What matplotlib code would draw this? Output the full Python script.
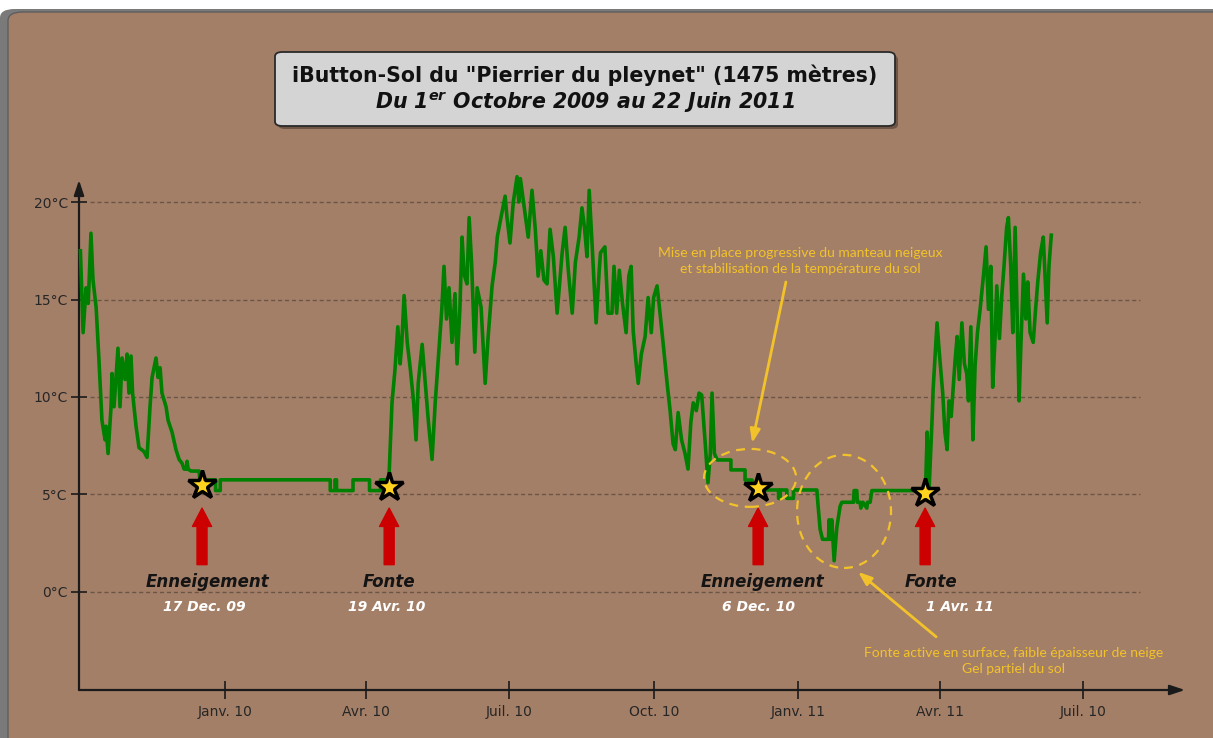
import matplotlib.pyplot as plt
import pandas as pd
from matplotlib.patches import Ellipse, FancyBboxPatch

plt.rcParams['font.family'] = ['DejaVu Sans']
plt.rcParams['mathtext.fontset'] = 'custom'
plt.rcParams['mathtext.rm'] = 'DejaVu Sans:bold:italic'
plt.rcParams['mathtext.it'] = 'DejaVu Sans:bold:italic'

# jours depuis le 1er octobre 2009, température du sol (°C)
debut = pd.Timestamp('2009-10-01')
jours = [0, 1.7, 3.6, 5, 6.7, 8, 10, 11.8, 13.7, 15.7, 16.3, 17.6, 19.5, 20.1, 21.4, 23.9, 25.2, 26.5,
         28.4, 29.7, 30.9, 32.2, 33.2, 35.4, 37.3, 40.5, 42.4, 44.3, 45.6, 48.1, 49.4, 50.7, 51.9,
         54.5, 55.8, 58.3, 60.8, 62.8, 64.7, 66, 67.5, 67.9, 68.5, 70.4, 75.5, 76,
         86, 86, 89, 89, 159, 159, 162, 162, 163, 163, 173.5, 173.5, 184, 184, 191, 191, 196,
         196.5, 198.3, 200.2, 202, 203.5, 204.5, 206, 208, 210, 212, 213.6, 215, 217.5, 219.5,
         221.5, 223.8, 225.8, 227.8, 230, 231.4, 233, 234.6, 236.5, 238.4, 239.7, 241.5, 242.9,
         244.2, 246, 247.4, 249, 251, 252.5, 255, 257.6, 259.5, 262, 264, 265.3, 267.4, 270.3,
         271.5, 273.4, 275.5, 277.9, 279, 280, 282, 285, 287.4, 289.5, 291.3, 293, 295, 297,
         298.9, 301, 303.4,
         306.6, 308.5, 310.5, 313, 315, 317.4, 319.2, 320.8, 322.4, 323.8, 325.8, 328.2, 330.2,
         331, 333.8, 335.8, 338.3, 339.6, 341.3, 343, 345, 347.3, 349, 350.5, 351.8, 353.7, 355,
         357, 359.4, 361.3, 363.3, 364.8, 367, 368.5, 370.8, 373.4, 375.3, 377.2, 378.6, 380.4,
         382.6, 384.8, 386.7, 388.5, 390, 392, 393.7, 395.4, 397.5, 399.4, 400.9, 402, 403.5,
         405.3, 414, 414, 423, 423, 427.5, 428, 431, 433, 444.3, 444.3, 445.4, 445.4, 449.6,
         449.6, 453.8, 453.8, 468.7, 469.5, 470.8, 472.3, 476.1, 476.5, 477.2, 478.2, 479.7,
         481.4, 483.5, 484.6, 492, 492.4, 494.1, 494.5, 496.2, 496.7, 498, 500.5, 500.9, 502.6,
         503.7, 534.4,
         537, 538, 538.9, 540.2, 542.1, 542.7, 545.2, 546.5, 548.8, 550.2, 551.6, 552.8, 554.2,
         556.7, 558, 559.3, 561, 562.6, 564.1, 565.2, 566.7, 568, 569.4, 570.9, 572.6, 574.7,
         576.4, 577.9, 579.4, 580.6, 582.1, 583.2, 584.9, 586.3, 587.8, 589.5, 590.6, 592.1,
         593.4, 594.9, 595.9, 597.4, 598.7, 600.2, 601.7, 602.9, 604.4, 606.4, 607.9, 609.4,
         611.1, 612.8, 614.3, 615.3, 616.4, 617.9]
temp = [17.5, 13.3, 15.6, 14.8, 18.4, 16.0, 14.6, 11.9, 8.8, 7.8, 8.5, 7.1, 9.5, 11.2, 9.5, 12.5, 9.5, 12.0,
        10.9, 12.2, 10.2, 12.1, 10.2, 8.5, 7.4, 7.2, 6.9, 9.5, 11.0, 12.0, 11.0, 11.5, 10.2,
        9.5, 8.8, 8.2, 7.3, 6.8, 6.6, 6.3, 6.3, 6.7, 6.3, 6.2, 6.2, 5.75,
        5.75, 5.2, 5.2, 5.75, 5.75, 5.2, 5.2, 5.75, 5.75, 5.2, 5.2, 5.75, 5.75, 5.2, 5.2, 5.75, 5.75,
        6.1, 9.7, 11.4, 13.6, 11.7, 12.7, 15.2, 12.8, 11.4, 9.8, 7.8, 10.7, 12.7, 10.7,
        8.7, 6.8, 9.7, 12.0, 14.5, 16.7, 14.0, 15.6, 12.8, 15.3, 11.7, 14.5, 18.2,
        16.3, 15.8, 19.2, 16.8, 12.3, 15.6, 14.6, 10.7, 13.1, 15.7, 16.9, 18.2, 19.1, 20.3,
        19.2, 17.9, 20.0, 21.3, 20.0, 21.2, 20.0, 18.2, 20.6, 18.6, 16.2, 17.5, 16.0, 15.8,
        18.6, 17.2, 14.3,
        17.4, 18.7, 16.5, 14.3, 16.9, 18.2, 19.7, 18.7, 17.2, 20.6, 17.6, 13.8, 16.5,
        17.4, 17.7, 14.3, 14.3, 16.7, 14.3, 16.5, 14.8, 13.3, 16.2, 16.7, 13.4, 11.7, 10.7,
        12.2, 13.1, 15.1, 13.3, 15.1, 15.7, 14.6, 12.8, 10.7, 9.3, 7.6, 7.3, 9.2,
        7.8, 7.1, 6.3, 8.7, 9.7, 9.3, 10.2, 10.1, 7.8, 5.6, 7.1, 10.2, 7.1,
        6.77, 6.77, 6.26, 6.26, 5.74, 5.74, 5.5, 5.3, 5.23, 5.23, 4.8, 4.8, 5.23, 5.23,
        4.8, 4.8, 5.23, 5.23, 4.4, 3.2, 2.7, 2.7, 3.7, 2.7, 3.7, 1.6,
        3.3, 4.4, 4.6, 4.6, 5.2, 5.2, 4.6, 4.6, 4.3, 4.6, 4.3, 4.6, 4.6,
        5.2, 5.2,
        5.2, 5.6, 8.2, 5.4, 9.0, 10.4, 13.8, 12.4, 10.2, 8.2, 7.3, 9.8, 9.0,
        11.9, 13.1, 10.9, 13.8, 11.7, 11.2, 9.8, 13.6, 7.8, 11.6, 13.3, 14.5, 16.2,
        17.7, 14.5, 16.7, 10.5, 13.0, 15.7, 13.0, 15.1, 16.7, 18.7, 19.2, 16.7,
        13.3, 18.7, 15.1, 9.8, 13.0, 16.3, 14.0, 15.9, 13.3, 12.8, 14.5, 16.0,
        17.4, 18.2, 15.6, 13.8, 16.7, 18.3]

mois_ticks = ['2010-01-01', '2010-04-01', '2010-07-01', '2010-10-01', '2011-01-01', '2011-04-01', '2011-07-01']
mois_labels = ['Janv. 10', 'Avr. 10', 'Juil. 10', 'Oct. 10', 'Janv. 11', 'Avr. 11', 'Juil. 10']
niveaux = [0, 5, 10, 15, 20]

# évènements (étoiles)
etoiles_jours = [77.4, 196.5, 431.3, 537.6]
etoiles_temp = [5.5, 5.4, 5.33, 5.1]
evenements = ['Enneigement', 'Fonte', 'Enneigement', 'Fonte']
dates_evenements = ['17 Dec. 09', '19 Avr. 10', '6 Dec. 10', '1 Avr. 11']

BRUN = '#A47F68'
OR = '#F2C22A'
W, H = 1213, 738

fig = plt.figure(figsize=(W / 100, H / 100), dpi=100)
fig.patch.set_facecolor('white')
fig.patches.append(FancyBboxPatch((0, -0.1), 1.2, 1.1 - 9 / H, boxstyle='round,pad=0,rounding_size=0.012',
                                  transform=fig.transFigure, fc='#7a7a7a', ec='none', zorder=-3))
fig.patches.append(FancyBboxPatch((8 / W, -0.1), 1.2, 1.1 - 12 / H, boxstyle='round,pad=0,rounding_size=0.012',
                                  transform=fig.transFigure, fc=BRUN, ec='#5e5e5e', lw=1, zorder=-2))

ax = fig.add_axes([79 / W, 1 - 690 / H, (1185 - 79) / W, (690 - 180) / H])
ax.set_facecolor('none')
ax.set_xlim(-0.9, 703)
ax.set_ylim(-5.03, 21.13)
for s in ax.spines.values():
    s.set_visible(False)

# axes avec flèches
fleche = dict(arrowstyle='-|>,head_length=0.9,head_width=0.3', color='#1a1a1a', lw=1.6, shrinkA=0, shrinkB=0)
ax.annotate('', xy=(1, 0), xytext=(0, 0), xycoords='axes fraction', arrowprops=fleche)
ax.annotate('', xy=(0, 1), xytext=(0, 0), xycoords='axes fraction', arrowprops=fleche)

tick_jours = [(pd.Timestamp(d) - debut).days for d in mois_ticks]
ax.set_xticks(tick_jours)
ax.set_xticklabels(mois_labels)
ax.set_yticks(niveaux)
ax.set_yticklabels([f'{v}°C' for v in niveaux])
ax.tick_params(axis='y', direction='inout', length=12, width=1.2, color='#1a1a1a',
               labelsize=10, labelcolor='#262626', pad=2)
ax.tick_params(axis='x', direction='inout', length=13, width=1.2, color='#1a1a1a',
               labelsize=10, labelcolor='#262626', pad=4)

# grille pointillée
ax.hlines(niveaux, 6, 674.5, colors='#6B5646', linestyles=(0, (3, 2)), lw=1, zorder=1)

# courbe de température
ax.plot(jours, temp, color='#008000', lw=2.6, zorder=3, clip_on=False)

# étoiles et flèches rouges
ax.plot(etoiles_jours, etoiles_temp, '*', ms=21, mfc='#FFD21F', mec='black', mew=2.5, zorder=6)
dx_mot = [4, 0, 3, 4]
dx_date = [2, -2, 0, 25]
for i, d in enumerate(etoiles_jours):
    ax.annotate('', xy=(d, 4.3), xytext=(d, 1.4),
                arrowprops=dict(arrowstyle='simple,head_length=1.1,head_width=1.15,tail_width=0.6',
                                fc='#CC0000', ec='#CC0000', mutation_scale=12, shrinkA=0, shrinkB=0))
    ax.annotate(evenements[i], xy=(d, 0.5), xytext=(dx_mot[i], 0), textcoords='offset points',
                ha='center', va='center', fontsize=12, fontweight='bold', fontstyle='italic', color='#141414')
    ax.annotate(dates_evenements[i], xy=(d, -0.77), xytext=(dx_date[i], 0), textcoords='offset points',
                ha='center', va='center', fontsize=10, fontweight='bold', fontstyle='italic', color='white')

# commentaires en jaune
ax.text(458, 17.0, 'Mise en place progressive du manteau neigeux\net stabilisation de la température du sol',
        ha='center', va='center', color=OR, fontsize=10, family='Lato', linespacing=1.4)
ax.annotate('', xy=(427.5, 7.64), xytext=(449, 15.9),
            arrowprops=dict(arrowstyle='-|>,head_length=0.8,head_width=0.3', color=OR, lw=2, shrinkA=0, shrinkB=0))
ax.add_patch(Ellipse((426.2, 5.85), 58.6, 2.97, fill=False, ec=OR, ls=(0, (4, 3)), lw=1.6, zorder=4))

ax.text(593.7, -3.54, 'Fonte active en surface, faible épaisseur de neige\nGel partiel du sol',
        ha='center', va='center', color=OR, fontsize=10, family='Lato', linespacing=1.4)
ax.annotate('', xy=(494.9, 1.03), xytext=(544.6, -2.3),
            arrowprops=dict(arrowstyle='-|>,head_length=0.8,head_width=0.3', color=OR, lw=2, shrinkA=0, shrinkB=0))
ax.add_patch(Ellipse((486, 4.13), 59.8, 5.8, fill=False, ec=OR, ls=(0, (4, 3)), lw=1.6, zorder=4))

# titre dans un cadre
fig.patches.append(FancyBboxPatch((278 / W, 1 - 129 / H), 620 / W, 74 / H, boxstyle='round,pad=0,rounding_size=0.006',
                                  transform=fig.transFigure, fc='#4a3a30', ec='none', alpha=0.6, zorder=1))
fig.patches.append(FancyBboxPatch((275 / W, 1 - 126 / H), 620 / W, 74 / H, boxstyle='round,pad=0,rounding_size=0.006',
                                  transform=fig.transFigure, fc='#D4D4D4', ec='#2a2a2a', lw=1.3, zorder=2))
fig.text(585 / W, 1 - 75 / H, 'iButton-Sol du "Pierrier du pleynet" (1475 mètres)', ha='center', va='center',
         fontsize=14.8, fontweight='bold', color='#111111', zorder=3)
fig.text(585 / W, 1 - 103 / H, 'Du 1$^{er}$ Octobre 2009 au 22 Juin 2011', ha='center', va='center',
         fontsize=14.8, fontweight='bold', fontstyle='italic', color='#111111', zorder=3)

fig.savefig('out.png', dpi=100, facecolor=fig.get_facecolor())
